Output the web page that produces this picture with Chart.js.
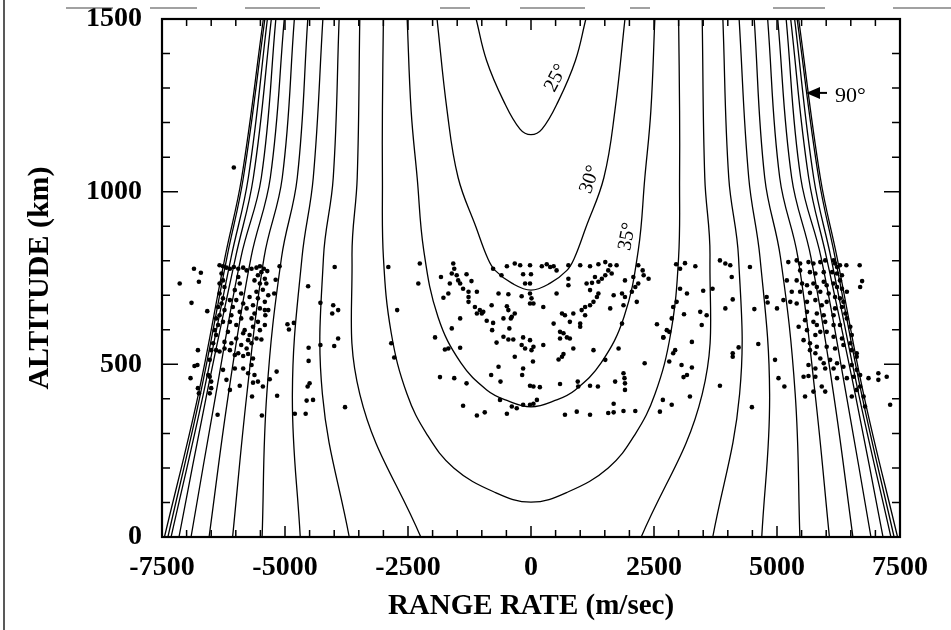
<!DOCTYPE html>
<html>
<head>
<meta charset="utf-8">
<script src="https://cdn.jsdelivr.net/npm/chart.js@4.4.1/dist/chart.umd.min.js"></script>
<style>
  html, body { margin: 0; padding: 0; background: #fff; }
  #wrap { width: 951px; height: 630px; }
</style>
</head>
<body>
<div id="wrap"><canvas id="chart" width="951" height="630"></canvas></div>
<script>
// axis ticks
const xTickLabels = [-7500, -5000, -2500, 0, 2500, 5000, 7500];
const yTickLabels = [0, 500, 1000, 1500];

// elevation contours that close above the ground (altitude km, half width m/sec)
const alt25 = [1500, 1380, 1263, 1181, 1165];
const w25   = [1115, 903, 558, 223, 0];
const alt30 = [1500, 1234, 1041, 897, 807, 772, 735, 715];
const w30   = [1910, 1705, 1482, 1117, 880, 730, 390, 0];
const alt35 = [1500, 1234, 1041, 830, 637, 504, 426, 397, 377];
const w35   = [2517, 2436, 2314, 2180, 1890, 1425, 900, 520, 0];
const alt40 = [1500, 1234, 1041, 810, 590, 414, 296, 200, 131, 101];
const w40   = [3000, 3020, 3020, 3000, 2840, 2520, 2110, 1570, 760, 0];

// contours that reach the ground, sampled at these altitudes
const outerAlt = [1500, 1041, 810, 414, 0];
const w45 = [3480, 3532, 3638, 3480, 2240];
const w50 = [3900, 4019, 4218, 4240, 3694];
const w55 = [4230, 4425, 4654, 4850, 4690];
const w60 = [4537, 4750, 5070, 5370, 5465];
const w65 = [4810, 5055, 5425, 5775, 6065];
const w70 = [5015, 5298, 5690, 6150, 6543];
const w75 = [5186, 5481, 5895, 6405, 6910];
const w80 = [5278, 5643, 6005, 6590, 7155];
const w85 = [5358, 5745, 6095, 6660, 7315];
const w90 = [5409, 5846, 6180, 6720, 7380];
const wEdge = [5440, 5880, 6220, 6760, 7450];

// observations [range rate, altitude]
const westObs = [
  [-6850,777],[-6710,765],[-7140,734],[-6750,739],[-6900,678],[-6580,654],[-6770,541],[-6780,498],[-6840,495],[-6920,460],
  [-6770,431],[-6750,416],[-6500,431],[-6530,416],[-6370,354],[-5920,438],[-5650,447],[-5670,407],[-5450,436],[-5470,352],
  [-5170,479],[-5310,457],[-5160,409],[-5110,784],[-5190,745],[-5220,705],[-5340,657],[-5400,642],[-4950,616],[-4920,601],
  [-4820,620],[-4530,726],[-4280,678],[-4020,671],[-4040,647],[-3920,657],[-3990,782],[-2900,782],[-2720,657],[-3920,575],
  [-4000,553],[-4520,548],[-4520,510],[-4280,556],[-4500,445],[-4540,436],[-4560,395],[-4430,397],[-4580,357],[-4800,357],
  [-3780,376],[-2840,561],[-2780,520],
  [-6330,787],[-6260,784],[-6190,780],[-6120,777],[-6040,782],[-5950,777],[-5850,780],[-5780,772],[-5680,777],[-5580,780],
  [-5510,784],[-5430,777],[-5360,770],[-5480,767],[-5550,758],[-5410,748],[-5620,743],[-5510,734],[-5380,734],[-5450,716],
  [-5580,710],[-5340,700],[-5720,695],[-5550,691],[-5410,681],[-5650,671],[-5780,662],[-5510,662],[-5410,657],[-5620,647],
  [-5680,633],[-5550,623],[-5410,614],[-5650,609],[-5820,599],[-5510,599],[-5720,585],[-5580,575],[-5480,572],[-5750,570],
  [-5680,561],[-5890,556],[-5780,546],[-5950,532],[-5850,524],[-5750,530],[-5650,517],[-6020,527],[-6120,541],[-6230,546],
  [-6330,537],[-6400,541],
  [-6290,763],[-6260,743],[-6330,734],[-6230,724],[-6330,705],[-6260,691],[-6290,676],[-6360,666],[-6230,657],[-6330,642],
  [-6400,633],[-6260,623],[-6360,614],[-6430,599],[-6400,585],[-6460,561],[-6500,541],[-6530,513],[-6560,469],[-6530,464],
  [-6500,450],
  [-5950,753],[-5920,734],[-6020,715],[-5890,705],[-5990,686],[-5850,676],[-6060,666],[-5920,652],[-6120,686],[-6090,642],
  [-5890,633],[-5990,614],[-6120,623],[-6160,594],[-5850,590],[-5990,575],[-6090,561],[-6230,565],
  [-6020,488],[-5850,488],[-5680,498],[-5750,474],[-5620,469],[-5550,450],[-6260,484],[-6190,455],[-6120,426],
  [-6040,1070]
];

const centralObs = [
  [-2260,792],[-2290,734],[-1580,792],[-1560,777],[-1610,763],[-1830,753],[-1650,734],[-1510,758],[-1480,743],[-1440,734],
  [-1310,761],[-1210,741],[-1380,719],[-1680,705],[-1780,693],[-1270,710],[-1270,695],[-1100,710],[-1270,681],[-1140,666],
  [-1040,657],[-1100,647],[-970,652],[-900,626],[-770,620],[-800,671],[-1000,647],[-1440,633],[-1610,604],[-1950,578],
  [-1750,543],[-1680,546],[-1440,548],[-790,599],[-560,580],[-460,572],[-360,572],[-700,563],[-410,633],[-460,657],
  [-330,647],[-490,668],[-390,638],[-560,633],[-440,604],[-160,578],[-190,556],[-20,570],[50,551],[10,541],
  [-120,546],[250,556],[-330,522],[40,508],[-160,488],[-180,469],[-660,493],[-810,469],[-620,450],[-1560,460],
  [-1850,463],[-1310,445],[-20,438],[50,436],[180,434],[-160,383],[-20,383],[50,386],[120,397],[-630,397],
  [-1380,380],[-1100,352],[-940,361],[-490,357],[-390,378],[-290,373],
  [-490,784],[-330,792],[-220,787],[-20,787],[220,784],[320,790],[390,782],[460,784],[520,772],[760,787],
  [1000,787],[1200,784],[1370,790],[1510,796],[1610,787],[1740,787],[1570,772],[1510,758],[1440,748],[1370,739],
  [1240,736],[1300,753],[1640,763],[-160,761],[0,761],[-120,734],[-20,734],[-600,758],[-770,777],
  [-660,705],[-460,703],[-190,697],[-20,705],[10,691],[50,676],[-20,676],[250,666],[520,705],[760,748],
  [760,729],[1130,734],[1200,715],[1370,705],[1340,695],[1270,681],[1200,671],[1100,666],[1030,657],[1100,642],
  [1000,618],[1000,609],[860,647],[790,623],[690,642],[630,647],[460,618],[590,594],[660,590],[730,578],
  [790,575],[590,575],[630,522],[560,514],[660,530],[860,546],[1270,541],[1510,513],[1780,546],[1680,700],
  [1850,705],[1910,695],[2050,710],[2120,724],[1880,671],[1610,662],[1850,618],[2150,681],[2390,748],[2270,772],
  [2290,758],[2180,787],[2080,753],[1910,743],[2180,734],[2560,616],[2690,578],[2310,503],[1880,474],[1900,460],
  [1910,445],[1910,426],[1710,450],[1360,436],[1200,438],[960,436],[950,450],[590,443],[1680,386],[1570,359],
  [1680,361],[1880,365],[2120,365],[1200,354],[930,363],[690,354]
];

const eastObs = [
  [2950,790],[3030,777],[3130,793],[3340,784],[3840,801],[3950,792],[4050,787],[4450,782],[4080,753],[3030,719],
  [3170,705],[3500,713],[3690,719],[2960,681],[2890,666],[3110,645],[2860,633],[3440,652],[3470,614],[3570,642],
  [2760,599],[2810,594],[2690,578],[3270,565],[2930,541],[2890,532],[2810,508],[3060,498],[3270,491],[3170,469],
  [3100,463],[2680,397],[2860,383],[2620,363],[3230,407],[3840,438],[4100,688],[3950,662],[4220,549],[4100,532],
  [4100,522],[4620,559],[4790,695],[4810,679],[4540,660],[5000,662],[4960,513],[5030,460],[5150,436],[4490,376],
  [5230,796],[5400,801],[5470,792],[5640,796],[5740,792],[5880,796],[5980,801],[6150,801],[6180,792],[6220,782],
  [6280,787],[6410,787],[6680,787],[5470,772],[5670,767],[5780,763],[5950,767],[6120,767],[6220,763],[6320,758],
  [6280,743],[5200,743],[5400,743],[5510,734],[5610,729],[5740,734],[5810,724],[5950,739],[6010,729],[6150,734],
  [6220,724],[6320,719],[6420,710],[6730,741],[6690,724],[5300,710],[5470,710],[5670,707],[5880,710],[6050,705],
  [6180,695],[6280,691],[6350,681],[5130,686],[5270,681],[5400,676],[5610,681],[5780,686],[5910,671],[6010,681],
  [6180,662],[6320,666],[6390,647],[5610,652],[5810,647],[5950,642],[6150,642],[6420,633],[5570,628],[5740,623],
  [5810,614],[5980,623],[6150,614],[6280,614],[6490,609],[5440,609],[5610,599],[5780,585],[5880,594],[6010,594],
  [6150,580],[6320,575],[6520,585],[5540,570],[5670,561],[5810,551],[6010,551],[6180,546],[6350,556],[6490,561],
  [6520,541],[6620,532],[6620,522],[5670,541],[5780,532],[5880,517],[5950,503],[6080,513],[6220,503],[6350,493],
  [6520,498],[6620,484],[6690,469],[5640,498],[5780,488],[5980,488],[6150,488],[5540,464],[5640,466],[5780,464],
  [5910,436],[5980,421],[5740,421],[6220,460],[6420,460],[6560,464],[6690,436],[6760,407],[6790,378],[6620,426],
  [6520,407],[6860,460],[7060,474],[7060,455],[7230,464],[7300,383],[5570,407]
];

// contour labels
const angleText = ['25°', '30°', '35°'];
const angleX    = [510, 1200, 1960];
const angleAlt  = [1329, 1035, 870];
const angleTilt = [-62, -71, -79];
const arrowTip  = [5590, 1286];

const SERIF = "'Liberation Serif', 'Times New Roman', serif";

function uCurve(alts, half) {
  const left = alts.map((a, i) => ({ x: -half[i], y: a }));
  const right = alts.slice(0, -1).map((a, i) => ({ x: half[i], y: a })).reverse();
  return left.concat(right);
}

function branch(half, sign) {
  return outerAlt.map((a, i) => ({ x: sign * half[i], y: a }));
}

function lineSet(points) {
  return {
    data: points,
    showLine: true,
    borderColor: '#000',
    borderWidth: 1.3,
    pointRadius: 0,
    tension: 0.4,
    fill: false
  };
}

const datasets = [];
[[alt25, w25], [alt30, w30], [alt35, w35], [alt40, w40]].forEach(([a, w]) => {
  datasets.push(lineSet(uCurve(a, w)));
});
[w45, w50, w55, w60, w65, w70, w75, w80, w85, w90, wEdge].forEach(w => {
  datasets.push(lineSet(branch(w, -1)));
  datasets.push(lineSet(branch(w, 1)));
});
datasets.push({
  data: westObs.concat(centralObs, eastObs).map(p => ({ x: p[0], y: p[1] })),
  showLine: false,
  pointRadius: 2.3,
  pointBackgroundColor: '#000',
  pointBorderWidth: 0
});

// inward tick marks, frame, contour labels and the page edge
const decorations = {
  id: 'decorations',
  afterDraw(chart) {
    const { ctx, chartArea: { left, right, top, bottom }, scales: { x, y } } = chart;
    ctx.save();
    ctx.strokeStyle = '#000';
    ctx.fillStyle = '#000';

    ctx.lineWidth = 1.5;
    ctx.beginPath();
    for (let v = x.min; v <= x.max; v += 500) {
      const px = x.getPixelForValue(v);
      const len = v % 2500 === 0 ? 11 : 7;
      ctx.moveTo(px, bottom); ctx.lineTo(px, bottom - len);
      ctx.moveTo(px, top); ctx.lineTo(px, top + len);
    }
    for (let v = y.min; v <= y.max; v += 100) {
      const py = y.getPixelForValue(v);
      const len = v % 500 === 0 ? 16 : 8;
      ctx.moveTo(left, py); ctx.lineTo(left + len, py);
      ctx.moveTo(right, py); ctx.lineTo(right - len, py);
    }
    ctx.stroke();

    ctx.lineWidth = 2.2;
    ctx.strokeRect(left, top, right - left, bottom - top);

    ctx.font = '20px ' + SERIF;
    ctx.textAlign = 'center';
    ctx.textBaseline = 'middle';
    angleText.forEach((t, i) => {
      ctx.save();
      ctx.translate(x.getPixelForValue(angleX[i]), y.getPixelForValue(angleAlt[i]));
      ctx.rotate(angleTilt[i] * Math.PI / 180);
      ctx.fillText(t, 0, 0);
      ctx.restore();
    });

    const ax = x.getPixelForValue(arrowTip[0]);
    const ay = y.getPixelForValue(arrowTip[1]);
    ctx.beginPath();
    ctx.moveTo(ax, ay);
    ctx.lineTo(ax + 14, ay - 6);
    ctx.lineTo(ax + 14, ay + 6);
    ctx.closePath();
    ctx.fill();
    ctx.lineWidth = 2;
    ctx.beginPath();
    ctx.moveTo(ax + 12, ay);
    ctx.lineTo(ax + 21, ay);
    ctx.stroke();
    ctx.textAlign = 'left';
    ctx.font = '22px ' + SERIF;
    ctx.fillText('90°', ax + 29, ay + 3);

    // scanned page edge
    ctx.lineWidth = 1.5;
    ctx.strokeStyle = '#222';
    ctx.beginPath();
    ctx.moveTo(4, 0); ctx.lineTo(4, chart.height);
    ctx.stroke();
    ctx.lineWidth = 1.2;
    ctx.strokeStyle = '#444';
    ctx.beginPath();
    [[66, 113], [150, 197], [245, 320], [440, 470], [520, 585], [630, 650], [773, 825], [893, 951]].forEach(([a, b]) => {
      ctx.moveTo(a, 8); ctx.lineTo(b, 8);
    });
    ctx.stroke();
    ctx.restore();
  }
};

new Chart(document.getElementById('chart').getContext('2d'), {
  type: 'scatter',
  data: { datasets: datasets },
  options: {
    responsive: false,
    animation: false,
    layout: { padding: { top: 19, right: 51, bottom: 0, left: 0 } },
    plugins: {
      legend: { display: false },
      tooltip: { enabled: false }
    },
    scales: {
      x: {
        type: 'linear',
        min: xTickLabels[0],
        max: xTickLabels[xTickLabels.length - 1],
        afterBuildTicks: s => { s.ticks = xTickLabels.map(v => ({ value: v })); },
        ticks: {
          padding: 14,
          maxRotation: 0,
          autoSkip: false,
          color: '#000',
          callback: v => String(v),
          font: { family: SERIF, size: 28, weight: 'bold' }
        },
        grid: { display: false, drawTicks: false },
        border: { display: false },
        title: {
          display: true,
          text: 'RANGE RATE (m/sec)',
          color: '#000',
          font: { family: SERIF, size: 29, weight: 'bold' },
          padding: { top: 0, bottom: 6 }
        },
        afterFit: s => {
          s.height = 93;
          s.paddingLeft = 0;
          s.paddingRight = 0;
        }
      },
      y: {
        type: 'linear',
        min: yTickLabels[0],
        max: yTickLabels[yTickLabels.length - 1],
        afterBuildTicks: s => { s.ticks = yTickLabels.map(v => ({ value: v })); },
        ticks: {
          padding: 20,
          autoSkip: false,
          color: '#000',
          callback: v => String(v),
          font: { family: SERIF, size: 28, weight: 'bold' }
        },
        grid: { display: false, drawTicks: false },
        border: { display: false },
        title: {
          display: true,
          text: 'ALTITUDE (km)',
          color: '#000',
          font: { family: SERIF, size: 30, weight: 'bold' },
          padding: { top: 22, bottom: 0 }
        },
        afterFit: s => {
          s.width = 162;
          s.paddingTop = 0;
          s.paddingBottom = 0;
        }
      }
    }
  },
  plugins: [decorations]
});
</script>
</body>
</html>
